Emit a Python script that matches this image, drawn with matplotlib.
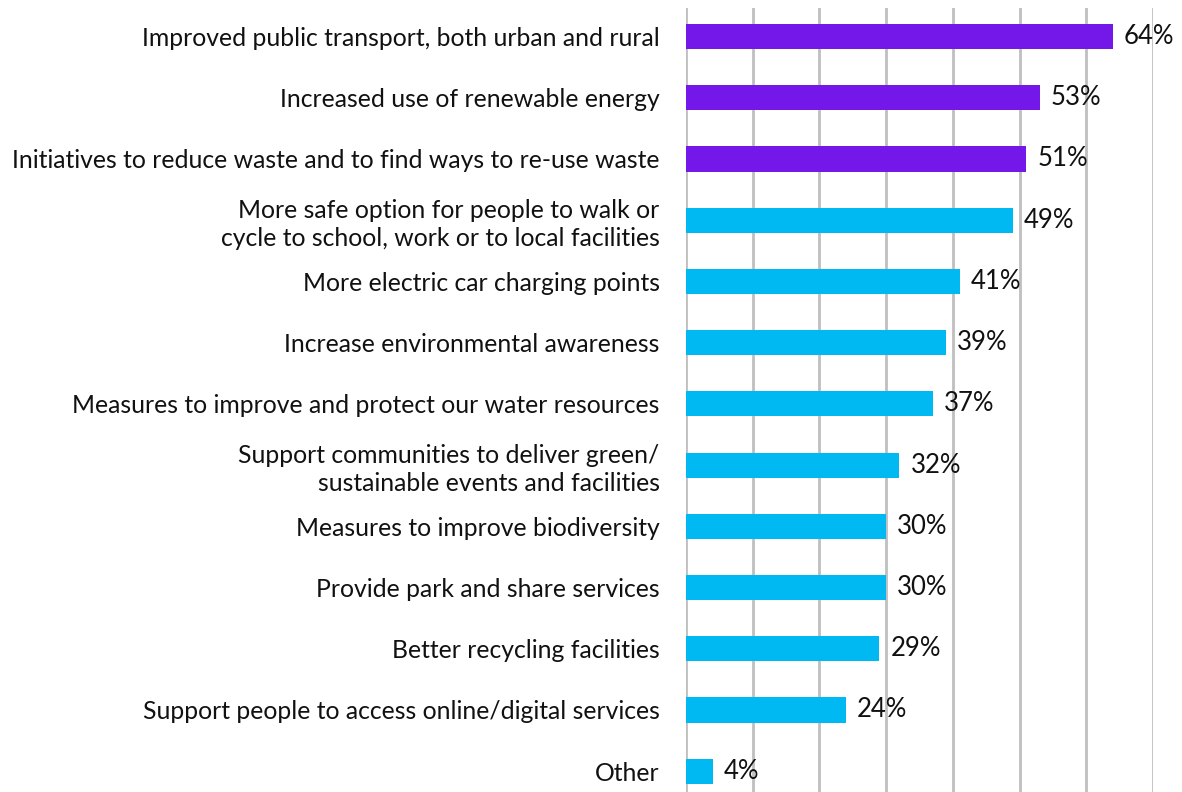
import matplotlib
matplotlib.use("Agg")
import matplotlib.pyplot as plt

categories = [
    "Improved public transport, both urban and rural",
    "Increased use of renewable energy",
    "Initiatives to reduce waste and to find ways to re-use waste",
    "More safe option for people to walk or\ncycle to school, work or to local facilities",
    "More electric car charging points",
    "Increase environmental awareness",
    "Measures to improve and protect our water resources",
    "Support communities to deliver green/\nsustainable events and facilities",
    "Measures to improve biodiversity",
    "Provide park and share services",
    "Better recycling facilities",
    "Support people to access online/digital services",
    "Other",
]
values = [64, 53, 51, 49, 41, 39, 37, 32, 30, 30, 29, 24, 4]
highlight = [True, True, True] + [False] * 10

PURPLE = "#7318E8"
CYAN = "#00B9F2"

plt.rcParams["font.family"] = ["Lato", "DejaVu Sans"]

fig = plt.figure(figsize=(11.82, 7.92), dpi=100)
ax = fig.add_axes([686 / 1182, 0, (1153 - 686) / 1182, 1 - 8 / 792])

ypos = list(range(len(categories)))
colors = [PURPLE if h else CYAN for h in highlight]
bars = ax.barh(ypos, values, height=0.41, color=colors, zorder=3)
ax.bar_label(bars, labels=[f"{v}%" for v in values], padding=8, fontsize=18.5, color="#111111")

ax.set_xlim(0, 70)
ax.set_ylim(12.34, -0.466)
ax.set_xticks(range(0, 71, 10))
ax.xaxis.grid(True, color="#BFBFBF", linewidth=2, zorder=0)
ax.set_xticklabels([])
ax.tick_params(axis="x", length=0)
ax.set_yticks(ypos)
ax.set_yticklabels(categories, fontsize=17.8, color="#111111", linespacing=1.25)
ax.tick_params(axis="y", length=0, pad=19)
for s in ax.spines.values():
    s.set_visible(False)

fig.savefig("out.png", dpi=100)
